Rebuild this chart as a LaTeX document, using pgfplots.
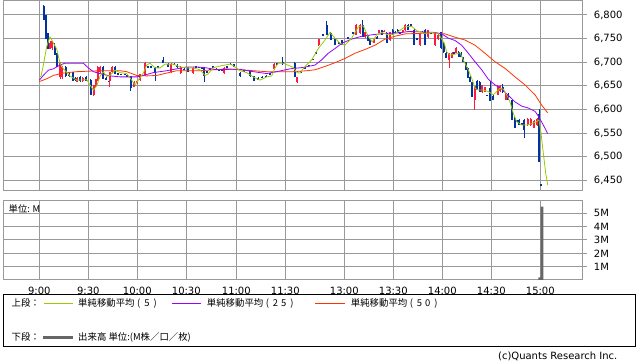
\documentclass[border=0pt]{standalone}
\usepackage{pgfplots}
\pgfplotsset{compat=1.18}
\usepackage{pgfplotstable}
\usepackage{fontspec}
\setmainfont{DejaVu Sans}
\newfontfamily\jp{Noto Sans CJK JP}
\definecolor{gridgray}{HTML}{999999}
\definecolor{upred}{HTML}{FF1A40}
\definecolor{downblue}{HTML}{0033A0}
\definecolor{maA}{HTML}{99CC00}
\definecolor{maB}{HTML}{9900FF}
\definecolor{maC}{HTML}{FF3300}
\definecolor{volgray}{HTML}{666666}
\newcommand\cell[1]{\makebox[8.2pt]{#1}}

% candles: x o h l c   (x = position on the time axis)
\pgfplotstableread{
x o h l c
50 6728 6745 6728 6741
52 6730 6745 6725 6745
60 6668 6700 6665 6698
62 6668 6692 6665 6690
77 6658 6668 6658 6666
82.5 6660 6668 6658 6666
93.5 6631 6652 6629 6652
95.5 6650 6665 6648 6664
97.5 6662 6692 6660 6690
100 6680 6692 6678 6690
109.5 6660 6680 6648 6680
112 6680 6692 6678 6690
134 6648 6660 6648 6658
137 6656 6660 6655 6660
140 6662 6676 6660 6675
145 6672 6700 6670 6698
171 6680 6698 6678 6696
180.5 6677 6692 6675 6690
193 6677 6690 6676 6688
224 6677 6690 6676 6688
274 6686 6698 6684 6697
297 6658 6669 6656 6669
318.5 6736 6749 6734 6749
356 6758 6780 6757 6779
360 6762 6780 6760 6779
365 6753 6764 6752 6763
374 6741 6750 6740 6749
379 6762 6769 6760 6768
384 6765 6768 6764 6766
390 6747 6765 6745 6764
402.5 6764 6768 6762 6768
405 6768 6780 6767 6779
420 6736 6763 6734 6762
428 6753 6769 6752 6768
435 6736 6763 6734 6762
438 6750 6760 6748 6758
449 6705 6720 6688 6720
452 6709 6722 6708 6720
456 6720 6732 6719 6730
474.5 6620 6650 6599 6650
482 6637 6652 6635 6652
485 6637 6648 6636 6647
497.5 6631 6652 6630 6650
500 6640 6652 6638 6650
505.5 6620 6636 6619 6635
527.5 6567 6582 6566 6580
530.5 6567 6582 6566 6580
534 6561 6578 6560 6576
537 6567 6582 6566 6580
}\upcandles

\pgfplotstableread{
x o h l c
43.5 6819 6821 6789 6789
45.5 6800 6800 6749 6749
47.5 6762 6762 6728 6728
54.5 6735 6741 6715 6715
57 6720 6720 6690 6690
65.5 6690 6691 6669 6670
69 6675 6678 6668 6670
72.5 6680 6680 6660 6660
75 6665 6668 6660 6665
80 6668 6670 6658 6660
86 6668 6670 6660 6660
90.5 6662 6664 6631 6631
103 6690 6692 6665 6665
106 6666 6668 6662 6665
108.5 6660 6660 6660 6660
115 6690 6692 6675 6675
118 6676 6678 6676 6676
121 6675 6675 6675 6675
124.5 6675 6675 6675 6675
127 6672 6673 6670 6670
130.5 6670 6670 6640 6645
148 6690 6692 6690 6690
151 6690 6690 6690 6690
155 6688 6690 6660 6680
158 6690 6692 6688 6690
163 6705 6712 6698 6698
168 6696 6698 6690 6690
174 6696 6698 6694 6696
177 6695 6696 6688 6690
184 6685 6688 6683 6685
188 6690 6690 6680 6680
196 6690 6692 6690 6690
199 6690 6690 6688 6688
201.5 6688 6690 6686 6688
204 6688 6690 6658 6670
207 6680 6682 6678 6680
210 6686 6688 6686 6686
213 6690 6690 6690 6690
216 6686 6688 6684 6684
219 6684 6684 6682 6682
222 6683 6683 6683 6683
227 6690 6692 6690 6690
230.5 6697 6698 6694 6694
234 6696 6696 6690 6690
237 6685 6686 6684 6685
240 6678 6680 6669 6670
244 6682 6684 6680 6682
250 6682 6684 6668 6670
254 6670 6671 6660 6660
258 6665 6668 6662 6665
262 6668 6670 6668 6668
266 6670 6672 6670 6670
270 6676 6678 6674 6676
277 6697 6698 6696 6696
282.5 6700 6710 6694 6696
294.5 6699 6700 6669 6669
301 6680 6680 6680 6680
305 6688 6690 6686 6688
309 6694 6694 6694 6694
313 6706 6706 6706 6706
316 6720 6720 6720 6720
322.5 6758 6758 6758 6758
326.5 6779 6788 6758 6758
330.5 6762 6765 6747 6747
335 6749 6750 6736 6736
339 6741 6741 6741 6741
342 6747 6748 6736 6736
348 6752 6753 6752 6752
352.5 6762 6762 6762 6762
362.5 6779 6789 6753 6753
367.5 6758 6760 6745 6745
370 6749 6750 6736 6736
377 6752 6755 6750 6752
381.5 6768 6769 6758 6758
386.5 6762 6764 6741 6741
392.5 6768 6770 6758 6760
395 6764 6766 6764 6764
397.5 6768 6770 6762 6762
400 6762 6764 6760 6762
408 6779 6780 6768 6768
411 6779 6780 6778 6779
414 6768 6770 6736 6736
417 6750 6752 6748 6750
422.5 6764 6766 6762 6764
425 6768 6770 6736 6736
431 6762 6763 6762 6762
441 6764 6765 6728 6730
443.5 6740 6742 6720 6722
446 6720 6722 6709 6709
454 6720 6721 6720 6720
458.5 6722 6724 6711 6712
461 6720 6721 6711 6711
463 6711 6712 6700 6700
465.5 6700 6701 6684 6684
467.5 6688 6689 6667 6667
470 6669 6670 6658 6658
472 6658 6659 6626 6626
477 6660 6662 6641 6641
479.5 6658 6660 6637 6637
487 6630 6631 6630 6630
490 6645 6660 6617 6617
493 6628 6630 6620 6620
502.5 6648 6655 6635 6638
508 6632 6634 6620 6620
511.5 6620 6621 6578 6578
514.5 6582 6583 6561 6561
517 6576 6578 6574 6576
519 6578 6580 6567 6567
522 6570 6572 6568 6570
524 6578 6580 6540 6556
539 6590 6601 6489 6489
541 6440 6440 6440 6440
}\downcandles

\pgfplotstableread{
x y
39.3 6669
41 6670
43 6690
46.7 6733
50 6754
53.3 6741
56.7 6728
60 6698
63.3 6686
66.7 6679
70 6671
76.7 6662
86.7 6663
90 6652
93.3 6641
96.7 6650
100 6670
103.3 6680
106.7 6670
110 6672
115 6683
120 6678
126.7 6676
131.7 6662
135 6652
138.3 6662
143.3 6677
146.7 6694
150 6698
155 6688
160 6688
165 6696
173 6696
180 6690
186.7 6688
193 6688
200 6684
205 6672
208 6675
213 6688
220 6692
230 6696
233 6693
240 6682
246.7 6678
253.3 6669
260 6662
266.7 6669
271.7 6671
275 6688
278.3 6698
283.3 6698
293.3 6689
297 6678
300 6677
305 6691
311.7 6705
318.3 6729
325 6747
330 6763
335 6751
340 6740
345 6736
351.7 6751
358.3 6775
363.3 6777
368.3 6754
372.3 6743
376.7 6758
381.7 6763
388.3 6758
395 6760
405 6775
411.7 6776
416.7 6767
425 6761
431.7 6763
438.3 6761
444.3 6740
446.7 6722
450 6715
455 6717
460 6720
463.3 6705
468.3 6684
471.7 6666
475 6645
478.3 6641
483.3 6641
488.3 6638
493.3 6631
496.7 6638
500 6645
503.3 6643
506.7 6631
510 6616
513.3 6592
516.7 6574
521.7 6567
526.7 6567
531.7 6570
536.7 6574
539 6578
541 6550
543.3 6508
545.7 6465
547.7 6440
}\maFive

\pgfplotstableread{
x y
39.3 6662
43.3 6672
48.3 6683
53.3 6686
60 6694
65 6698
83.3 6698
88.3 6688
93.3 6680
100 6676
110 6671
120 6669
136.7 6669
143.3 6672
153.3 6678
166.7 6682
176.7 6686
186.7 6690
196.7 6690
206.7 6688
216.7 6684
230 6685
240 6685
253.3 6680
266.7 6676
276.7 6680
290 6686
303.3 6689
315 6694
321.7 6705
328.3 6719
335 6729
341.7 6740
351.7 6749
361.7 6755
371.7 6758
385 6761
398.3 6762
408.3 6765
425 6764
435 6763
441.7 6760
448.3 6751
455 6746
461.7 6736
468.3 6719
475 6701
481.7 6684
488.3 6664
495 6652
501.7 6643
508.3 6630
515 6616
521.7 6607
528.3 6603
535 6596
538.3 6586
543.3 6567
547.7 6549
}\maTwentyFive

\pgfplotstableread{
x y
39.3 6659
46.7 6665
53.3 6672
63.3 6677
76.7 6680
100 6682
120 6682
126.7 6680
136.7 6672
146.7 6671
156.7 6672
166.7 6677
176.7 6682
200 6682
213.3 6684
226.7 6686
240 6684
253.3 6682
266.7 6680
280 6680
293.3 6680
306.7 6682
315 6684
325 6691
335 6699
345 6708
355 6719
365 6727
375 6736
385 6749
395 6755
405 6760
418.3 6761
431.7 6762
445 6760
455 6753
465 6747
475 6736
485 6719
495 6701
505 6687
515 6669
525 6652
535 6631
541.7 6609
547.7 6593
}\maFifty

\pgfplotstableread{
x v
539.7 0.2
542 5.49
}\volume

\pgfplotsset{
  panel/.style={
    scale only axis, anchor=south west,
    xmin=3.3, xmax=582.7,
    axis line style={gridgray, line width=1pt},
    grid=major, major grid style={gridgray, line width=1pt},
    xtick={39.3,88.3,137.3,186.3,236.3,285.3,344.3,393.3,442.3,491.3,540.3},
    xtick style={draw=none},
    ytick pos=right, yticklabel pos=right,
    ytick style={gridgray, line width=1pt},
    tick align=outside, major tick length=4pt,
    ticklabel style={font=\fontsize{10}{12}\selectfont},
    yticklabel style={anchor=west, inner sep=0pt, xshift=7pt},
    /pgf/number format/assume math mode=true,
    clip=true,
  },
  candlewick/.style={draw=none, mark=none, forget plot,
    error bars/.cd, y dir=both, y explicit, error mark=none,
    error bar style={draw=#1, line width=1pt}},
  candlebody/.style={draw=none, mark=none, forget plot,
    error bars/.cd, y dir=both, y explicit, error mark=none,
    error bar style={draw=#1, line width=2pt}},
}

\begin{document}
\begin{tikzpicture}
\useasboundingbox (0pt,0pt) rectangle (638pt,362pt);
\fill[white] (0pt,0pt) rectangle (638pt,362pt);

% upper panel: price
\begin{axis}[panel,
  at={(3.3pt,171.7pt)}, width=579.4pt, height=189.8pt,
  ymin=6428.8, ymax=6830.7,
  ytick={6450,6500,...,6800},
  xticklabels={},
]
\addplot[candlewick=downblue] table[x=x, y expr={(\thisrow{h}+\thisrow{l})/2}, y error expr={(\thisrow{h}-\thisrow{l})/2}]{\downcandles};
\addplot[candlebody=downblue] table[x=x, y expr={(\thisrow{o}+\thisrow{c})/2}, y error expr={max(abs(\thisrow{o}-\thisrow{c})/2,1.1)}]{\downcandles};
\addplot[candlewick=upred] table[x=x, y expr={(\thisrow{h}+\thisrow{l})/2}, y error expr={(\thisrow{h}-\thisrow{l})/2}]{\upcandles};
\addplot[candlebody=upred] table[x=x, y expr={(\thisrow{o}+\thisrow{c})/2}, y error expr={max(abs(\thisrow{o}-\thisrow{c})/2,1.1)}]{\upcandles};
\addplot[maC, line width=0.8pt, mark=none, line join=round] table[x=x, y=y]{\maFifty};
\addplot[maB, line width=0.8pt, mark=none, line join=round] table[x=x, y=y]{\maTwentyFive};
\addplot[maA, line width=0.8pt, mark=none, line join=round] table[x=x, y=y]{\maFive};
\end{axis}

% lower panel: volume
\begin{axis}[panel,
  at={(3.3pt,82pt)}, width=579.4pt, height=79pt,
  ymin=0, ymax=5.92,
  ytick={1,2,3,4,5}, yticklabels={1M,2M,3M,4M,5M},
  xticklabels={9:00,9:30,10:00,10:30,11:00,11:30,13:00,13:30,14:00,14:30,15:00},
]
\addplot[ybar, bar width=2.6pt, bar shift=0pt, fill=volgray, draw=none] table[x=x, y=v]{\volume};
\end{axis}

\node[anchor=west, inner sep=0pt, font=\jp\fontsize{9.3}{11}\selectfont] at (8.5pt,152.7pt) {単位: M};

% legend box
\draw[black, line width=1pt] (3.3pt,67pt) rectangle (635.5pt,15.6pt);
\begin{scope}[every node/.style={anchor=west, inner sep=0pt, font=\jp\fontsize{9.4}{11}\selectfont}]
\node at (11.4pt,58.7pt) {上段：};
\draw[maA, line width=0.8pt] (43.5pt,58.7pt) -- (73.2pt,58.7pt);
\node at (78pt,58.7pt) {単純移動平均\cell{(}\cell{5}\cell{)}};
\draw[maB, line width=0.8pt] (171.5pt,58.7pt) -- (201.2pt,58.7pt);
\node at (206.7pt,58.7pt) {単純移動平均\cell{(}\cell{2}\cell{5}\cell{)}};
\draw[maC, line width=0.8pt] (315pt,58.7pt) -- (345pt,58.7pt);
\node at (350.7pt,58.7pt) {単純移動平均\cell{(}\cell{5}\cell{0}\cell{)}};
\node at (11.4pt,24.7pt) {下段：};
\draw[volgray, line width=3pt] (43.3pt,24.7pt) -- (72.7pt,24.7pt);
\node at (78pt,24.7pt) {出来高 単位:(M株／口／枚)};
\end{scope}
\node[anchor=east, inner sep=0pt, font=\fontsize{10}{12}\selectfont] at (617.6pt,5.6pt) {(c)Quants Research Inc.};
\end{tikzpicture}
\end{document}
